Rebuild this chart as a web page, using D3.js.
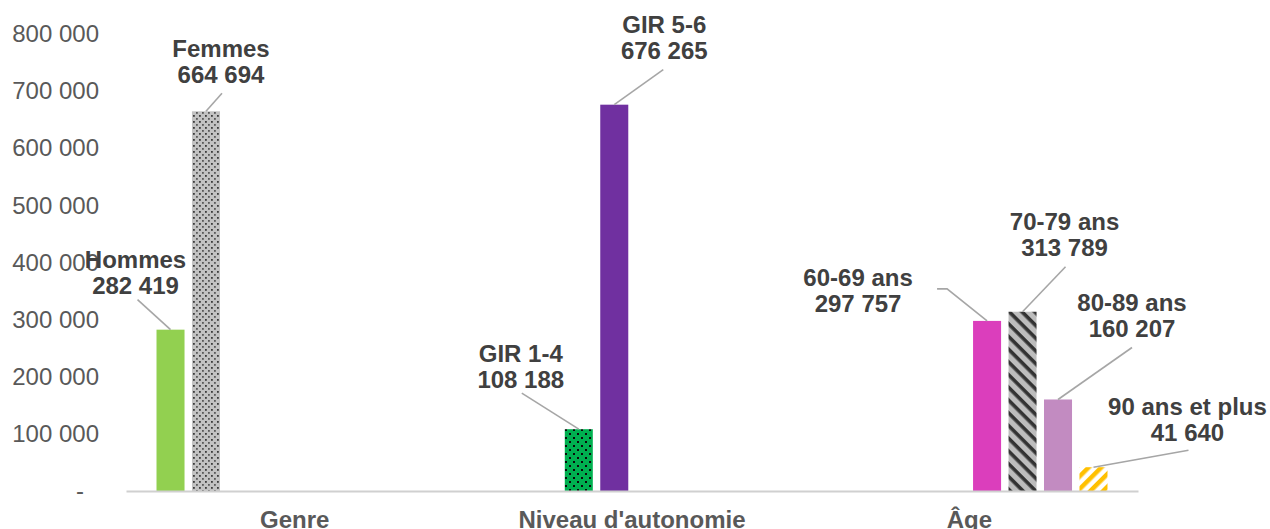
<!DOCTYPE html>
<html lang="fr">
<head>
<meta charset="utf-8">
<script src="https://cdn.jsdelivr.net/npm/d3@7"></script>
<style>
  html, body { margin: 0; padding: 0; background: #ffffff; }
  svg { display: block; font-family: "Liberation Sans", Arial, sans-serif; }
</style>
</head>
<body>
<svg id="chart" width="1270" height="529"></svg>
<script>
// Groups shown on the horizontal axis
const categories = ["Genre", "Niveau d'autonomie", "Âge"];

// One series per bar, each attached to its group
const seriesNames = ["Hommes", "Femmes", "GIR 1-4", "GIR 5-6",
                     "60-69 ans", "70-79 ans", "80-89 ans", "90 ans et plus"];
const seriesGroup = ["Genre", "Genre", "Niveau d'autonomie", "Niveau d'autonomie",
                     "Âge", "Âge", "Âge", "Âge"];
const seriesValues = [282419, 664694, 108188, 676265, 297757, 313789, 160207, 41640];

// Vertical axis ticks
const yTicks = [0, 100000, 200000, 300000, 400000, 500000, 600000, 700000, 800000];

// Fill of each bar (plain colour or pattern id)
const seriesFill = ["#92D050", "url(#dotsGrey)", "url(#dotsGreen)", "#7030A0",
                    "#DB3EBC", "url(#stripesGrey)", "#C28BC1", "url(#stripesGold)"];

// Label placement relative to the top centre of each bar:
// [label dx, label dy (first line centre), leader start dx, leader start dy, elbow dx]
const labelLayout = [
  [-35, -70, -33, -30, null],
  [ 15, -63,  16, -18, null],
  [-58, -76, -57, -36, null],
  [ 50, -80,  49, -35, null],
  [-129, -43, -50, -32, -40],
  [ 42, -90,  43, -45, null],
  [ 74, -97,  74, -52, null],
  [ 94, -61,  95, -17, null]
];

const fr = d3.formatLocale({ decimal: ",", thousands: " ", grouping: [3], currency: ["", " €"] });
const fmt = fr.format(",d");

const svg = d3.select("#chart");
const plot = { left: 126, right: 1138, top: 34, bottom: 491 };

// Patterns
const defs = svg.append("defs");

const pGrey = defs.append("pattern").attr("id", "dotsGrey")
  .attr("patternUnits", "userSpaceOnUse").attr("width", 6).attr("height", 6);
pGrey.append("rect").attr("width", 6).attr("height", 6).attr("fill", "#c2c2c2");
pGrey.append("rect").attr("x", 1).attr("y", 1).attr("width", 1.8).attr("height", 1.8).attr("fill", "#3c3c3c");
pGrey.append("rect").attr("x", 4).attr("y", 4).attr("width", 1.8).attr("height", 1.8).attr("fill", "#5a5a5a");

const pGreen = defs.append("pattern").attr("id", "dotsGreen")
  .attr("patternUnits", "userSpaceOnUse").attr("width", 8).attr("height", 8);
pGreen.append("rect").attr("width", 8).attr("height", 8).attr("fill", "#00B050");
pGreen.append("rect").attr("x", 1).attr("y", 1).attr("width", 2).attr("height", 2).attr("fill", "#0a0a0a");
pGreen.append("rect").attr("x", 5).attr("y", 5).attr("width", 2).attr("height", 2).attr("fill", "#0a0a0a");

// Dark stripes falling from top-left to bottom-right
const pStripe = defs.append("pattern").attr("id", "stripesGrey")
  .attr("patternUnits", "userSpaceOnUse").attr("width", 9).attr("height", 9)
  .attr("patternTransform", "rotate(45)");
pStripe.append("rect").attr("width", 9).attr("height", 9).attr("fill", "#bdbdbd");
pStripe.append("rect").attr("width", 9).attr("height", 3.6).attr("fill", "#333333");

// Gold stripes rising from bottom-left to top-right
const pGold = defs.append("pattern").attr("id", "stripesGold")
  .attr("patternUnits", "userSpaceOnUse").attr("width", 9).attr("height", 9)
  .attr("patternTransform", "rotate(-45)");
pGold.append("rect").attr("width", 9).attr("height", 9).attr("fill", "#ffffff");
pGold.append("rect").attr("width", 9).attr("height", 4.5).attr("fill", "#FFC000");

// Scales
const x0 = d3.scaleBand().domain(categories).range([plot.left, plot.right]).padding(0);
const x1 = d3.scaleBand().domain(seriesNames).range([0, x0.bandwidth()])
  .paddingInner(0.21).paddingOuter(0.86);
const y = d3.scaleLinear().domain([0, 800000]).range([plot.bottom, plot.top]);

// Y axis labels (no line, no ticks)
const yAxis = d3.axisLeft(y).tickValues(yTicks).tickSize(0).tickPadding(0)
  .tickFormat(d => d === 0 ? "-" : fmt(d));
const gy = svg.append("g").attr("transform", "translate(99,0)").call(yAxis);
gy.select(".domain").remove();
gy.selectAll("text")
  .attr("font-family", "Liberation Sans, Arial, sans-serif")
  .attr("font-size", 24).attr("fill", "#595959");
gy.selectAll(".tick").filter(d => d === 0).select("text").attr("x", -15);

// Bars
const bars = seriesNames.map((name, i) => ({
  name, group: seriesGroup[i], value: seriesValues[i], fill: seriesFill[i], layout: labelLayout[i]
}));

svg.append("g").selectAll("rect").data(bars).join("rect")
  .attr("x", d => x0(d.group) + x1(d.name))
  .attr("y", d => y(d.value))
  .attr("width", x1.bandwidth())
  .attr("height", d => y(0) - y(d.value))
  .attr("fill", d => d.fill);

// Category axis
const xAxis = d3.axisBottom(x0).tickSize(0).tickPadding(0);
const gx = svg.append("g").attr("transform", `translate(0,${plot.bottom})`).call(xAxis);
gx.select(".domain").attr("stroke", "#d0d0d0").attr("stroke-width", 2);
gx.selectAll("text")
  .attr("font-family", "Liberation Sans, Arial, sans-serif")
  .attr("font-size", 24).attr("font-weight", "bold").attr("fill", "#595959")
  .attr("y", 37).attr("dy", 0);

// Leader lines and data labels
const lab = svg.append("g");
bars.forEach(d => {
  const bx = x0(d.group) + x1(d.name) + x1.bandwidth() / 2;
  const by = y(d.value);
  const [ldx, ldy, sdx, sdy, edx] = d.layout;
  const pts = [[bx + sdx, by + sdy]];
  if (edx !== null) pts.push([bx + edx, by + sdy]);
  pts.push([bx, by]);
  lab.append("path")
    .attr("d", d3.line()(pts))
    .attr("fill", "none").attr("stroke", "#a6a6a6").attr("stroke-width", 1.6);
  const t = lab.append("text")
    .attr("x", bx + ldx).attr("y", by + ldy)
    .attr("text-anchor", "middle")
    .attr("font-size", 24).attr("font-weight", "bold").attr("fill", "#404040");
  t.append("tspan").attr("x", bx + ldx).attr("dy", "0.35em").text(d.name);
  t.append("tspan").attr("x", bx + ldx).attr("dy", 26).text(fmt(d.value));
});
</script>
</body>
</html>
